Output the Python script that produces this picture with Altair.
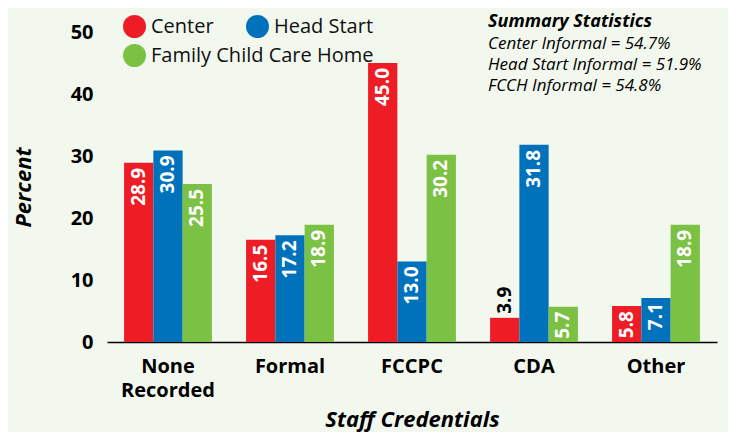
import altair as alt
import pandas as pd

categories = ["None Recorded", "Formal", "FCCPC", "CDA", "Other"]
series = ["Center", "Head Start", "Family Child Care Home"]
center = [28.9, 16.5, 45.0, 3.9, 5.8]
head_start = [30.9, 17.2, 13.0, 31.8, 7.1]
fcch = [25.5, 18.9, 30.2, 5.7, 18.9]
colors = ["#EE1C25", "#0072BC", "#7BC143"]
y_ticks = [0, 10, 20, 30, 40, 50]
summary_title = "Summary Statistics"
summary_lines = ["Center Informal = 54.7%", "Head Start Informal = 51.9%", "FCCH Informal = 54.8%"]

rows = []
for s, vals in zip(series, [center, head_start, fcch]):
    for c, v in zip(categories, vals):
        rows.append({"cat": c, "series": s, "value": v, "label": f"{v:.1f}"})
df = pd.DataFrame(rows)

FONT = "Open Sans"

base = alt.Chart(df).encode(
    x=alt.X(
        "cat:N",
        sort=categories,
        scale=alt.Scale(paddingInner=0.28, paddingOuter=0.14),
        axis=alt.Axis(
            title="Staff Credentials",
            labelExpr="split(datum.label, ' ')",
            labelAngle=0,
            labelFont=FONT,
            labelFontSize=20,
            labelFontWeight="bold",
            labelColor="black",
            labelLineHeight=24,
            labelPadding=14,
            ticks=False,
            domainColor="black",
            domainWidth=1.5,
            titleFont=FONT,
            titleFontSize=22,
            titleFontWeight="bold",
            titleFontStyle="italic",
            titleColor="black",
            titlePadding=9,
        ),
    ),
    xOffset=alt.XOffset("series:N", scale=alt.Scale(domain=series, paddingInner=0, paddingOuter=0)),
    y=alt.Y(
        "value:Q",
        scale=alt.Scale(domain=[0, 50]),
        axis=alt.Axis(
            title="Percent",
            values=y_ticks,
            grid=False,
            domain=False,
            ticks=False,
            labelFont=FONT,
            labelFontSize=20,
            labelFontWeight="bold",
            labelColor="black",
            labelPadding=14,
            titleFont=FONT,
            titleFontSize=22,
            titleFontWeight="bold",
            titleFontStyle="italic",
            titleColor="black",
            titlePadding=35,
        ),
    ),
)

legend_common = dict(
    title=None,
    orient="none",
    direction="horizontal",
    legendX=16,
    columnPadding=32,
    symbolType="circle",
    symbolSize=529,
    symbolStrokeWidth=0,
    symbolOpacity=1,
    labelFont=FONT,
    labelFontSize=20,
    labelColor="#111111",
    labelOffset=5,
    labelLimit=400,
    padding=0,
)

bars_a = base.transform_filter(
    alt.FieldOneOfPredicate(field="series", oneOf=series[:2])
).mark_bar().encode(
    color=alt.Color(
        "series:N",
        scale=alt.Scale(domain=series[:2], range=colors[:2]),
        legend=alt.Legend(legendY=-17, **legend_common),
    )
)

bars_b = base.transform_filter(
    alt.FieldEqualPredicate(field="series", equal=series[2])
).mark_bar().encode(
    fill=alt.Fill(
        "series:N",
        scale=alt.Scale(domain=series[2:], range=colors[2:]),
        legend=alt.Legend(legendY=12, **legend_common),
    )
)

inside = base.transform_filter("datum.value > 5").mark_text(
    angle=270, align="right", baseline="middle", dx=-5,
    font=FONT, fontSize=19, fontWeight="bold", color="white",
).encode(text="label:N")

outside = base.transform_filter("datum.value <= 5").mark_text(
    angle=270, align="left", baseline="middle", dx=4,
    font=FONT, fontSize=19, fontWeight="bold", color="black",
).encode(text="label:N")

summary_df = pd.DataFrame({"t": [summary_title]})
sum_title = alt.Chart(summary_df).mark_text(
    align="left", baseline="alphabetic", font=FONT, fontSize=18,
    fontWeight="bold", fontStyle="italic", color="black",
).encode(x=alt.value(381), y=alt.value(-5), text="t:N")

sum_lines = alt.Chart(summary_df).mark_text(
    align="left", baseline="alphabetic", font=FONT, fontSize=17,
    fontStyle="italic", color="black", lineHeight=21, text=summary_lines,
).encode(x=alt.value(381), y=alt.value(17))

chart = alt.layer(bars_a, bars_b, inside, outside, sum_title, sum_lines).properties(
    width=610,
    height=310,
    padding={"left": 99, "top": 24, "right": 11, "bottom": 90},
    autosize=alt.AutoSizeParams(type="none"),
    background="#F2F8EE",
).configure_view(stroke=None)

chart.save("out.html", embed_options={"renderer": "svg", "actions": False})
